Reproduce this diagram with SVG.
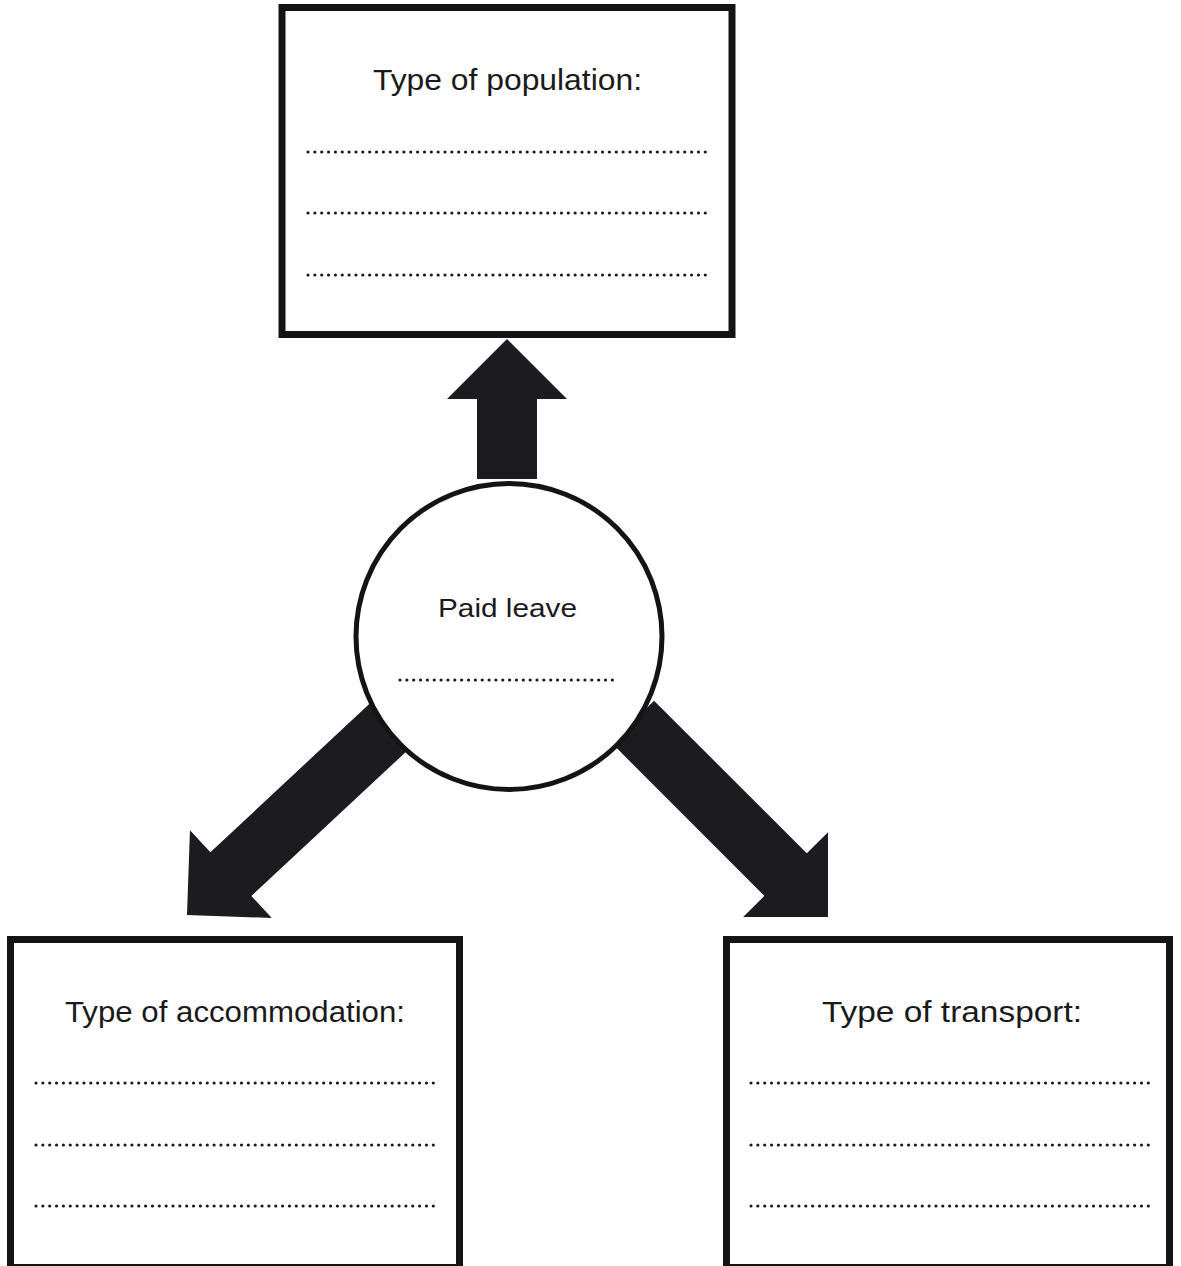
<svg xmlns="http://www.w3.org/2000/svg" width="1181" height="1266" viewBox="0 0 1181 1266">
<defs>
<style>
.box{fill:#fff;stroke:#141414;stroke-width:7}
.circ{fill:#fff;stroke:#141414;stroke-width:5}
.arrow{fill:#1b1b20}
.title{font-family:"Liberation Sans",Arial,sans-serif;fill:#1a1a1a}
.dots{stroke:#1a1a1a;stroke-width:3.2;stroke-linecap:round;stroke-dasharray:0 6.85;fill:none}
</style>
<polygon id="arr" points="0,0 60,60 30,60 30,1 -30,1 -30,60 -60,60"/>
</defs>
<rect width="1181" height="1266" fill="#fff"/>
<g id="connectors">
<polygon class="arrow" points="507,339 567,399 537,399 537,479 477,479 477,399 447,399"/>
<polygon class="arrow" transform="translate(187,915) rotate(-133)" points="0,0 60,60 30,60 30,290 -30,290 -30,60 -60,60"/>
<polygon class="arrow" transform="translate(828,917) rotate(135)" points="0,0 60,60 30,60 30,276 -30,276 -30,60 -60,60"/>
</g>
<g id="node-population">
<rect class="box" x="282" y="7.5" width="450" height="327"/>
<text class="title" x="507.5" y="90" font-size="29" text-anchor="middle" textLength="269" lengthAdjust="spacingAndGlyphs">Type of population:</text>
<line class="dots" x1="308" y1="152" x2="708" y2="152"/>
<line class="dots" x1="308" y1="213" x2="708" y2="213"/>
<line class="dots" x1="308" y1="275" x2="708" y2="275"/>
</g>
<g id="node-paid-leave">
<circle class="circ" cx="509" cy="636.5" r="153"/>
<text class="title" x="507.5" y="617" font-size="26" text-anchor="middle" textLength="139" lengthAdjust="spacingAndGlyphs">Paid leave</text>
<line class="dots" x1="400" y1="680" x2="616" y2="680"/>
</g>
<g id="node-accommodation">
<rect class="box" x="10.5" y="939.5" width="449" height="328"/>
<text class="title" x="235" y="1022" font-size="29" text-anchor="middle" textLength="340" lengthAdjust="spacingAndGlyphs">Type of accommodation:</text>
<line class="dots" x1="36" y1="1083" x2="435" y2="1083"/>
<line class="dots" x1="36" y1="1145" x2="435" y2="1145"/>
<line class="dots" x1="36" y1="1206" x2="435" y2="1206"/>
</g>
<g id="node-transport">
<rect class="box" x="726.5" y="939.5" width="443" height="328"/>
<text class="title" x="952" y="1022" font-size="29" text-anchor="middle" textLength="260" lengthAdjust="spacingAndGlyphs">Type of transport:</text>
<line class="dots" x1="751" y1="1083" x2="1152" y2="1083"/>
<line class="dots" x1="751" y1="1145" x2="1152" y2="1145"/>
<line class="dots" x1="751" y1="1206" x2="1152" y2="1206"/>
</g>
</svg>
